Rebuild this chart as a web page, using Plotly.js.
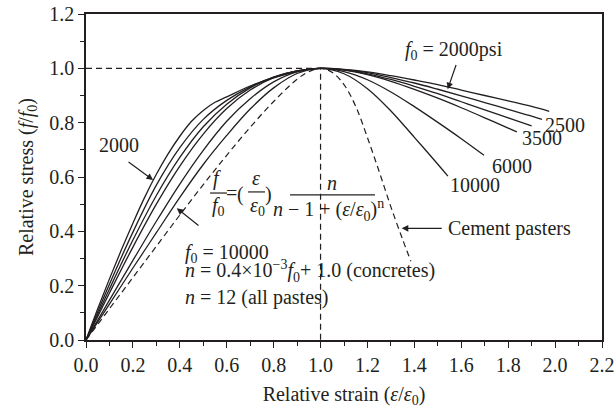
<!DOCTYPE html>
<html>
<head>
<meta charset="utf-8">
<script src="https://cdn.plot.ly/plotly-3.0.1.min.js"></script>
<style>
html,body{margin:0;padding:0;background:#fff;font-family:'Liberation Serif';}
#chart{width:615px;height:411px;}
#chart text{font-family:'Liberation Serif' !important;}
</style>
</head>
<body>
<div id="chart"></div>
<script>
// ---- data ----
const seriesNames = ["2000", "2500", "3000", "3500", "6000", "10000"];

const x2000 = [0,0.05,0.1,0.15,0.2,0.25,0.3,0.35,0.4,0.45,0.5,0.55,0.6,0.7,0.8,0.9,1.0,1.1,1.2,1.3,1.4,1.5,1.6,1.7,1.8,1.9,1.975];
const y2000 = [0,0.115,0.225,0.33,0.43,0.525,0.61,0.685,0.75,0.805,0.845,0.875,0.895,0.935,0.965,0.988,1.0,0.996,0.987,0.973,0.957,0.940,0.920,0.900,0.880,0.860,0.842];

const x2500 = [0,0.1,0.2,0.3,0.4,0.5,0.6,0.7,0.8,0.9,1.0,1.1,1.2,1.3,1.4,1.5,1.6,1.7,1.8,1.9,1.944];
const y2500 = [0,0.205,0.397,0.570,0.708,0.812,0.882,0.932,0.968,0.991,1.0,0.9955,0.984,0.966,0.946,0.923,0.899,0.874,0.849,0.824,0.812];

const x3000 = [0,0.1,0.2,0.3,0.4,0.5,0.6,0.7,0.8,0.9,1.0,1.1,1.2,1.3,1.4,1.5,1.6,1.7,1.8,1.9];
const y3000 = [0,0.188,0.368,0.532,0.672,0.785,0.868,0.928,0.968,0.991,1.0,0.9947,0.980,0.959,0.934,0.907,0.877,0.847,0.8175,0.788];

const x3500 = [0,0.1,0.2,0.3,0.4,0.5,0.6,0.7,0.8,0.9,1.0,1.1,1.2,1.3,1.4,1.5,1.6,1.7,1.8,1.837];
const y3500 = [0,0.173,0.342,0.500,0.640,0.758,0.852,0.920,0.966,0.991,1.0,0.9936,0.9766,0.952,0.9225,0.890,0.855,0.818,0.780,0.766];

const x6000 = [0,0.1,0.2,0.3,0.4,0.5,0.6,0.7,0.8,0.9,1.0,1.1,1.2,1.3,1.4,1.5,1.6,1.697];
const y6000 = [0,0.147,0.293,0.437,0.574,0.698,0.805,0.888,0.950,0.987,1.0,0.988,0.958,0.913,0.859,0.801,0.741,0.680];

const x10000 = [0,0.1,0.2,0.3,0.4,0.5,0.6,0.7,0.8,0.9,1.0,1.1,1.2,1.3,1.4,1.5,1.543];
const y10000 = [0,0.132,0.265,0.395,0.525,0.646,0.753,0.850,0.928,0.981,1.0,0.980,0.925,0.843,0.746,0.647,0.603];

const xPaste = [0,0.1,0.2,0.3,0.4,0.5,0.6,0.7,0.8,0.9,0.95,1.0,1.05,1.1,1.15,1.2,1.25,1.3,1.35,1.385];
const yPaste = [0,0.115,0.23,0.345,0.46,0.572,0.68,0.783,0.878,0.960,0.988,1.0,0.985,0.94,0.86,0.745,0.62,0.49,0.37,0.29];

const peakRefX = [0, 1.0, 1.0];
const peakRefY = [1.0, 1.0, 0];

const xTickVals = [0,0.2,0.4,0.6,0.8,1.0,1.2,1.4,1.6,1.8,2.0,2.2];
const yTickVals = [0,0.2,0.4,0.6,0.8,1.0,1.2];

// ---- drawing ----
const INK = '#231f20';
const FONT = 'Times New Roman';
const FS = 20;

const solidX = [x2000, x2500, x3000, x3500, x6000, x10000];
const solidY = [y2000, y2500, y3000, y3500, y6000, y10000];

const traces = solidX.map((xs, i) => ({
  type: 'scatter', mode: 'lines', name: seriesNames[i] + ' psi',
  x: xs, y: solidY[i],
  line: {color: INK, width: 1.3, shape: 'spline', smoothing: 1}
}));
traces.push({
  type: 'scatter', mode: 'lines', name: 'Cement pastes',
  x: xPaste, y: yPaste,
  line: {color: INK, width: 1.2, dash: '6px,4px', shape: 'spline', smoothing: 1}
});
traces.push({
  type: 'scatter', mode: 'lines', name: 'peak',
  x: peakRefX, y: peakRefY,
  line: {color: INK, width: 1.2, dash: '6px,4px'}
});

function txt(x, y, text, xanchor) {
  return {x: x, y: y, xref: 'x', yref: 'y', text: text, showarrow: false,
    xanchor: xanchor || 'left', yanchor: 'middle',
    font: {family: FONT, size: FS, color: INK}};
}
function arrow(x, y, ax, ay) {
  return {x: x, y: y, ax: ax, ay: ay, xref: 'x', yref: 'y', axref: 'x', ayref: 'y',
    text: '', showarrow: true, arrowhead: 2, arrowsize: 1.1, arrowwidth: 1.2, arrowcolor: INK};
}

const annotations = [
  txt(0.139, 0.718, '2000', 'center'),
  arrow(0.286, 0.589, 0.175, 0.659),
  txt(1.351, 1.067, '<i>f</i><sub>0</sub> = 2000psi'),
  arrow(1.542, 0.923, 1.580, 1.018),
  txt(1.948, 0.791, '2500'),
  txt(1.850, 0.744, '3500'),
  txt(1.722, 0.640, '6000'),
  txt(1.543, 0.571, '10000'),
  txt(1.535, 0.412, 'Cement pasters'),
  arrow(1.346, 0.411, 1.523, 0.411),
  arrow(0.387, 0.485, 0.486, 0.417),
  txt(0.414, 0.320, '<i>f</i><sub>0</sub> = 10000'),
  txt(0.414, 0.254, '<i>n</i> = 0.4×10<sup>−3</sup><i>f</i><sub>0</sub>+ 1.0 (concretes)'),
  txt(0.414, 0.158, '<i>n</i> = 12 (all pastes)'),
  // formula pieces
  txt(0.5585, 0.593, '<i>f</i>', 'center'),
  txt(0.567, 0.490, '<i>f</i><sub>0</sub>', 'center'),
  txt(0.622, 0.540, '=', 'center'),
  txt(0.657, 0.534, '(', 'center'),
  txt(0.725, 0.596, '<i>ε</i>', 'center'),
  txt(0.733, 0.490, '<i>ε</i><sub>0</sub>', 'center'),
  txt(0.776, 0.534, ')', 'center'),
  txt(1.049, 0.578, '<i>n</i>', 'center'),
  txt(1.036, 0.479, '<i>n</i> − 1 + (<i>ε</i>/<i>ε</i><sub>0</sub>)<sup>n</sup>', 'center')
];

function bar(x0, x1, y) {
  return {type: 'line', xref: 'x', yref: 'y', x0: x0, x1: x1, y0: y, y1: y,
    line: {color: INK, width: 1.2}};
}
const shapes = [bar(0.529, 0.601, 0.541), bar(0.691, 0.763, 0.545), bar(0.870, 1.232, 0.534)];

const axisCommon = {
  showgrid: false, zeroline: false, showline: true, mirror: true,
  linecolor: INK, linewidth: 1.5,
  ticks: 'outside', ticklen: 6, tickwidth: 1.3, tickcolor: INK,
  tickformat: '.1f',
  tickfont: {family: FONT, size: FS, color: INK}
};

const layout = {
  width: 615, height: 411,
  margin: {l: 86, r: 13, t: 14, b: 71},
  paper_bgcolor: '#fff', plot_bgcolor: '#fff',
  showlegend: false,
  font: {family: FONT, size: FS, color: INK},
  xaxis: Object.assign({}, axisCommon, {
    range: [0, 2.2], tickvals: xTickVals,
    minor: {ticks: 'outside', ticklen: 4, tickwidth: 1.2, tickcolor: INK, dtick: 0.1, tick0: 0},
    title: {text: 'Relative strain (<i>ε</i>/<i>ε</i><sub>0</sub>)', standoff: 12,
      font: {family: FONT, size: FS, color: INK}}
  }),
  yaxis: Object.assign({}, axisCommon, {
    range: [0, 1.2], tickvals: yTickVals,
    minor: {ticks: 'outside', ticklen: 4, tickwidth: 1.2, tickcolor: INK, dtick: 0.1, tick0: 0},
    title: {text: 'Relative stress (<i>f</i>/<i>f</i><sub>0</sub>)', standoff: 10,
      font: {family: FONT, size: FS, color: INK}}
  }),
  annotations: annotations,
  shapes: shapes
};

Plotly.newPlot('chart', traces, layout, {displayModeBar: false});
</script>
</body>
</html>
